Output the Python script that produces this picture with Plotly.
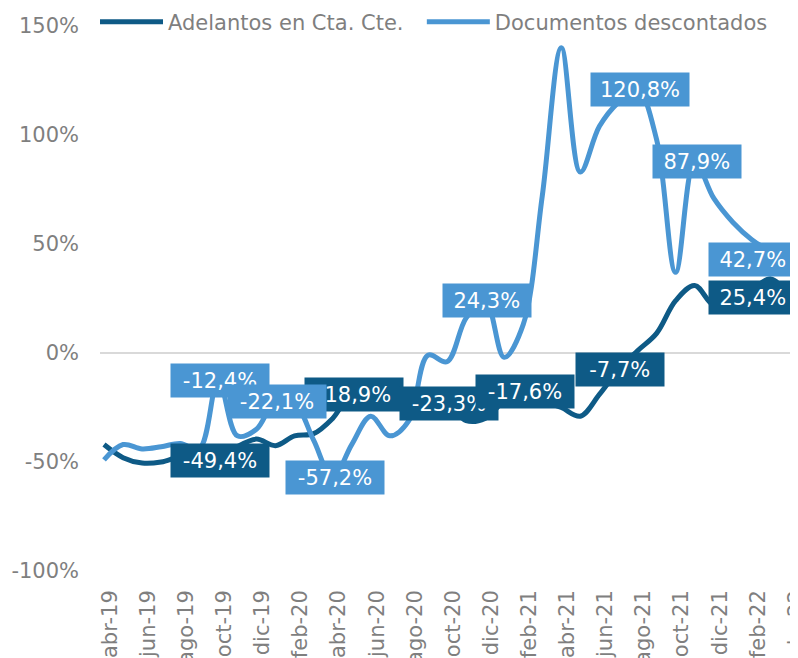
import plotly.graph_objects as go

months = ["abr-19", "may-19", "jun-19", "jul-19", "ago-19", "sep-19", "oct-19", "nov-19", "dic-19",
          "ene-20", "feb-20", "mar-20", "abr-20", "may-20", "jun-20", "jul-20", "ago-20", "sep-20",
          "oct-20", "nov-20", "dic-20", "ene-21", "feb-21", "mar-21", "abr-21", "may-21", "jun-21",
          "jul-21", "ago-21", "sep-21", "oct-21", "nov-21", "dic-21", "ene-22", "feb-22", "mar-22", "abr-22"]

adelantos = [-42, -48, -50.5, -50, -47.5, -47, -49.4, -43, -39.5,
             -42.5, -38, -37, -30, -18.9, -20, -22, -24, -25,
             -23.3, -31, -30, -22, -17.6, -22, -25, -29, -19,
             -7.7, 1, 9, 24, 31, 22, 24, 29, 34, 25.4]

documentos = [-49, -42, -44, -43, -41.5, -44, -12.4, -38, -35,
              -22.1, -23, -40, -57.2, -42, -29, -38, -31, -1,
              -4, 16, 24.3, -2, 13, 72, 140, 83, 104,
              115, 120.8, 98, 37, 87.9, 71, 60, 52, 46.5, 42.7]

series_names = ["Adelantos en Cta. Cte.", "Documentos descontados"]

# labelled points: (series index, month)
labelled = [(0, "oct-19"), (1, "oct-19"), (1, "abr-20"), (0, "may-20"), (1, "ene-20"),
            (0, "oct-20"), (0, "feb-21"), (1, "dic-20"), (0, "jul-21"), (1, "ago-21"),
            (1, "nov-21"), (1, "abr-22"), (0, "abr-22")]

y_tickvals = [-100, -50, 0, 50, 100, 150]
y_ticktext = ["-100%", "-50%", "0%", "50%", "100%", "150%"]
x_tickvals = months[::2]

colors = ["#0e5a86", "#4a96d3"]
grey = "#7f7f7f"
font_family = "DejaVu Sans, Verdana, sans-serif"
legend_pad = ["\u00a0\u00a0", ""]

fig = go.Figure()
for name, vals, c, pad in zip(series_names, [adelantos, documentos], colors, legend_pad):
    fig.add_trace(go.Scatter(x=months, y=vals, name=name + pad, mode="lines",
                             line=dict(color=c, width=5, shape="spline", smoothing=1)))

data = [adelantos, documentos]
for s, m in labelled:
    i = months.index(m)
    v = data[s][i]
    txt = f"{v:.1f}".replace(".", ",") + "%"
    xshift = -37 if i == len(months) - 1 else 2
    fig.add_annotation(x=m, y=v, text=txt, showarrow=False, xshift=xshift,
                       bgcolor=colors[s], font=dict(color="white", size=21, family=font_family),
                       width=35 + 10.5 * len(txt), height=33, borderpad=0, align="center")

fig.update_layout(
    width=790, height=650,
    margin=dict(l=92, r=1, t=18, b=87, autoexpand=False),
    paper_bgcolor="white", plot_bgcolor="white",
    font=dict(family=font_family, color=grey, size=21),
    showlegend=True,
    legend=dict(orientation="h", x=-5 / 697, xanchor="left", y=1.007, yanchor="middle",
                font=dict(size=21, color=grey), bgcolor="rgba(0,0,0,0)",
                itemwidth=63),
)
fig.update_xaxes(type="category", range=[-0.21, 36.37], tickmode="array", tickvals=x_tickvals,
                 tickangle=-90, showgrid=False, zeroline=False, showline=False, ticks="",
                 tickfont=dict(size=21, color=grey), ticklabelstandoff=14, ticklabelshift=6,
                 automargin=False)
fig.update_yaxes(range=[-100, 150], tickmode="array", tickvals=y_tickvals, ticktext=y_ticktext,
                 showgrid=False, zeroline=True, zerolinecolor="#d9d9d9", zerolinewidth=2,
                 showline=False, ticks="", tickfont=dict(size=21, color=grey),
                 ticklabelstandoff=20, automargin=False)

fig.write_html("out.html")
